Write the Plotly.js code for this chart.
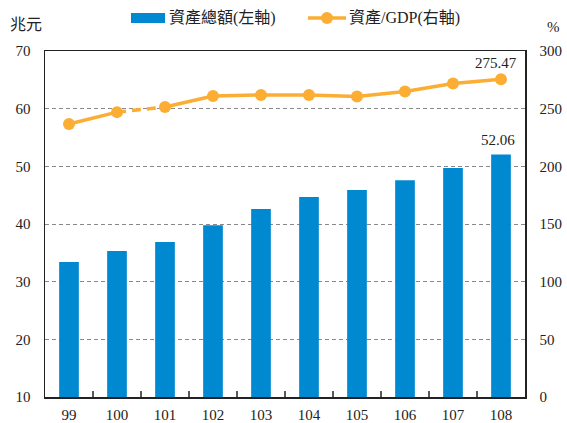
<!DOCTYPE html>
<html><head><meta charset="utf-8">
<script src="https://cdn.plot.ly/plotly-3.0.1.min.js"></script>
<style>body{margin:0;padding:0;}#c{width:567px;height:423px;}</style>
</head><body><div id="c"></div>
<script>
var years = ['99','100','101','102','103','104','105','106','107','108'];
var assets = [33.4, 35.3, 36.9, 39.8, 42.6, 44.7, 45.9, 47.6, 49.7, 52.06];
var ratio = [236.7, 247.0, 251.4, 261.0, 261.9, 261.9, 260.6, 264.9, 271.8, 275.47];
var barName = '資產總額(左軸)';
var lineName = '資產/GDP(右軸)';
var serif = "'Liberation Serif', 'Times New Roman', serif";
var cjk = "'Liberation Serif', 'Noto Sans CJK TC', serif";
var orange = '#FBAE33';
var blue = '#0088D1';

var traces = [
  {type:'bar', x:years, y:assets, name:barName, marker:{color:blue}, width:0.41},
  {type:'scatter', mode:'lines+markers', x:years.slice(0,2), y:ratio.slice(0,2), yaxis:'y2',
   line:{color:orange, width:3.5}, marker:{color:orange, size:12}},
  {type:'scatter', mode:'lines', x:years.slice(1,3), y:ratio.slice(1,3), yaxis:'y2',
   line:{color:orange, width:3.5, dash:'9px,6px'}},
  {type:'scatter', mode:'lines+markers', x:years.slice(2), y:ratio.slice(2), yaxis:'y2', name:lineName,
   line:{color:orange, width:3.5}, marker:{color:orange, size:12}}
];
var n = years.length - 1;
var L = 45, W = 480, B = 397, H = 346;
function px(x){ return (x - L) / W; }
function py(y){ return (B - y) / H; }
var shapes = [
  {type:'rect', xref:'paper', yref:'paper', x0:px(131), x1:px(165), y0:py(23), y1:py(13),
   fillcolor:blue, line:{width:0}},
  {type:'line', xref:'paper', yref:'paper', x0:px(308), x1:px(346), y0:py(18), y1:py(18),
   line:{color:orange, width:3.5}},
  {type:'circle', xref:'paper', yref:'paper', x0:px(321), x1:px(333), y0:py(24), y1:py(12),
   fillcolor:orange, line:{width:0}}
];
// category-boundary ticks on the x axis (inside, pointing up)
for (var i = 1; i < years.length; i++) {
  shapes.push({type:'line', xref:'x', yref:'paper', x0:i - 0.5, x1:i - 0.5, y0:0, y1:6/H,
               line:{color:'#222', width:1.5}, layer:'above'});
}
var layout = {
  width:567, height:423,
  margin:{l:45, r:42, t:51, b:26},
  paper_bgcolor:'white', plot_bgcolor:'white',
  font:{family:serif, size:15, color:'#222'},
  showlegend:false,
  xaxis:{type:'category', showline:true, linecolor:'#222', linewidth:1.5, mirror:true,
         ticks:'', showgrid:false, ticklabelstandoff:3, range:[-0.5, years.length - 0.5],
         tickfont:{family:serif, size:15, color:'#222'}},
  yaxis:{range:[10,70], dtick:10, showline:true, linecolor:'#222', linewidth:1.5,
         showgrid:true, gridcolor:'#888', griddash:'4px,3px', gridwidth:1, ticks:'', zeroline:false,
         ticklabelstandoff:10, tickfont:{family:serif, size:15, color:'#222'}},
  yaxis2:{range:[0,300], dtick:50, overlaying:'y', side:'right', showline:true, linecolor:'#222', linewidth:1.5,
          showgrid:false, ticks:'', zeroline:false, ticklabelstandoff:10, tickfont:{family:serif, size:15, color:'#222'}},
  shapes:shapes,
  annotations:[
    {xref:'x', yref:'y', x:n, y:assets[n], text:assets[n].toFixed(2), showarrow:false,
     yanchor:'bottom', yshift:4, xshift:-3, font:{family:serif, size:15, color:'#222'}},
    {xref:'x', yref:'y2', x:n, y:ratio[n], text:ratio[n].toFixed(2), showarrow:false,
     yanchor:'bottom', yshift:6, xshift:-5, font:{family:serif, size:15, color:'#222'}},
    {xref:'paper', yref:'paper', x:px(167), y:py(18), text:barName, showarrow:false, xanchor:'left', yanchor:'middle',
     font:{family:cjk, size:16, color:'#222'}},
    {xref:'paper', yref:'paper', x:px(347), y:py(18), text:lineName, showarrow:false, xanchor:'left', yanchor:'middle',
     font:{family:cjk, size:16, color:'#222'}},
    {xref:'paper', yref:'paper', x:px(8), y:py(23), text:'兆元', showarrow:false, xanchor:'left', yanchor:'middle',
     font:{family:"'Noto Sans CJK TC', sans-serif", size:16, color:'#222'}},
    {xref:'paper', yref:'paper', x:px(562), y:py(27), text:'%', showarrow:false, xanchor:'right', yanchor:'middle',
     font:{family:serif, size:15, color:'#222'}}
  ]
};
Plotly.newPlot('c', traces, layout, {displayModeBar:false, staticPlot:true});
</script></body></html>
